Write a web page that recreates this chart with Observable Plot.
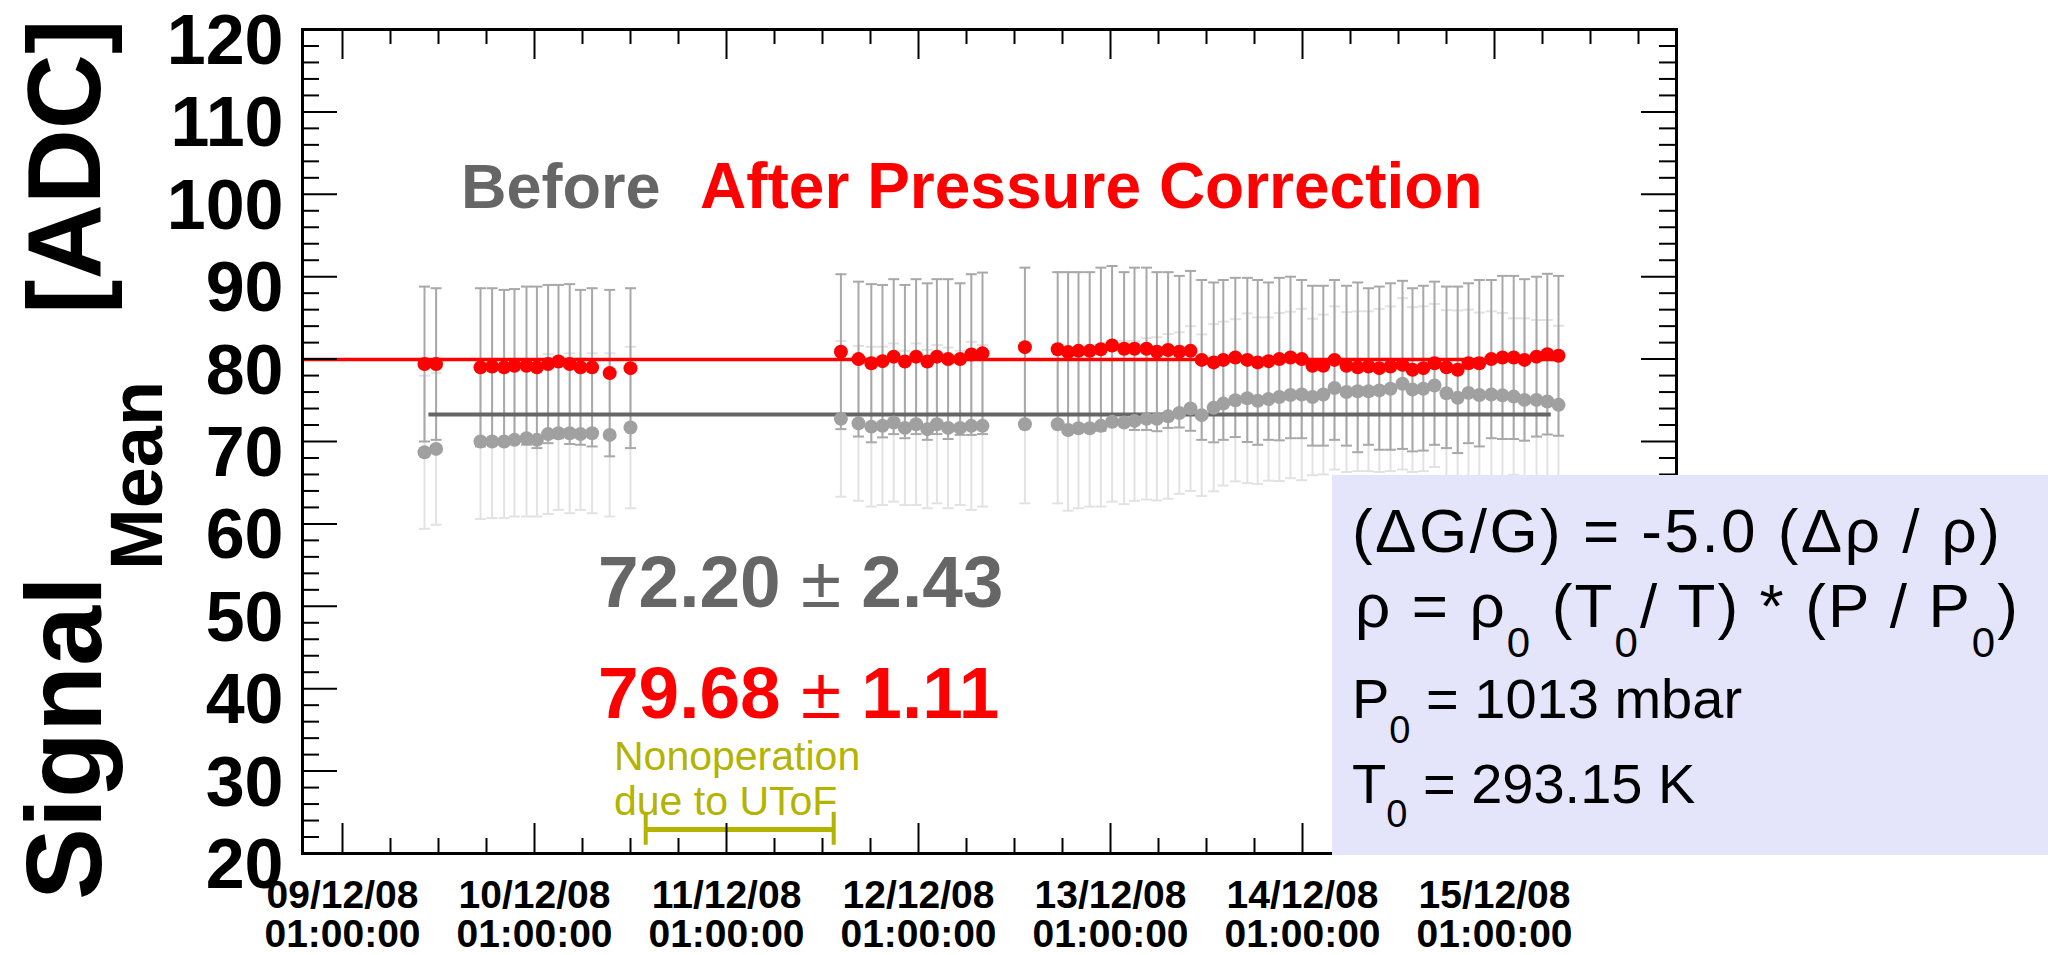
<!DOCTYPE html>
<html><head><meta charset="utf-8">
<script src="https://cdn.jsdelivr.net/npm/d3@7"></script>
<script src="https://cdn.jsdelivr.net/npm/@observablehq/plot@0.6"></script>
<style>html,body{margin:0;padding:0;background:#fff;} #chart{width:2048px;height:955px;overflow:hidden;}</style>
</head><body><div id="chart"></div>
<script>
// reference time: 09/12/08 01:00:00 ; x values are hours after it
const t0 = Date.UTC(2008, 11, 9, 1, 0, 0);
const hours = [10.25, 11.7,
  17.25, 18.7, 20.2, 21.5, 23.0, 24.3, 25.7, 27.0, 28.4, 29.75, 31.2,
  33.4, 36.0,
  62.3, 64.5, 66.1, 67.5, 68.9, 70.3, 71.7, 73.1, 74.3, 75.7, 77.2, 78.6, 80.0,
  85.3,
  89.4, 90.7, 92.0, 93.4, 94.8, 96.2, 97.7, 99.0, 100.5, 101.8,
  103.2, 104.6, 106.0, 107.4, 108.9, 110.1, 111.6, 113.1, 114.4, 115.75,
  117.1, 118.5, 119.9, 121.25, 122.6, 124.0, 125.5, 126.9, 128.25, 129.6,
  131.0, 132.5, 133.75, 135.1, 136.5, 138.0, 139.4, 140.75, 142.1, 143.6,
  145.0, 146.4, 147.75, 149.25, 150.6, 152.0];
const afterCorr = [79.4, 79.4,
  79.0, 79.1, 79.0, 79.2, 79.2, 79.0, 79.4, 79.7, 79.4, 79.0, 79.0,
  78.3, 78.9,
  80.9, 80.0, 79.5, 79.75, 80.3, 79.7, 80.3, 79.7, 80.3, 80.0, 80.0, 80.55, 80.7,
  81.45,
  81.2, 80.85, 81.0, 81.0, 81.2, 81.65, 81.25, 81.25, 81.25, 80.9,
  81.1, 80.9, 81.0, 79.9, 79.6, 79.9, 80.2, 79.9, 79.6, 79.75,
  80.0, 80.2, 80.0, 79.2, 79.2, 79.9, 79.2, 79.0, 79.1, 78.9,
  79.1, 79.3, 78.7, 78.9, 79.5, 79.0, 78.7, 79.5, 79.5, 80.0,
  80.2, 80.2, 79.9, 80.3, 80.6, 80.4];
const afterErr = [9.4, 9.2,
  9.6, 9.5, 9.4, 9.3, 9.6, 9.8, 9.6, 9.3, 9.7, 9.4, 9.6,
  10.1, 9.7,
  9.4, 9.4, 9.6, 9.25, 9.4, 9.3, 9.4, 9.5, 9.4, 9.7, 9.2, 9.75, 9.8,
  9.65,
  9.35, 9.7, 9.55, 9.55, 9.9, 9.65, 9.3, 9.85, 9.85, 9.65,
  9.45, 9.2, 9.7, 9.7, 9.7, 9.7, 9.66, 9.96, 10.0, 9.55,
  9.86, 9.8, 9.6, 9.7, 9.7, 9.7, 9.7, 10.3, 9.5, 9.9,
  10.1, 10.2, 9.9, 10.0, 9.9, 9.8, 10.1, 9.7, 10.1, 9.6,
  9.9, 9.9, 9.8, 9.7, 9.75, 9.7];
const beforeCorr = [68.7, 69.1,
  70.0, 70.0, 70.0, 70.2, 70.4, 70.2, 70.9, 71.0, 71.0, 70.9, 71.0,
  70.8, 71.7,
  72.75, 72.2, 71.8, 71.9, 72.3, 71.65, 72.1, 71.5, 72.1, 71.65, 71.65, 71.9, 71.9,
  72.1,
  72.1, 71.4, 71.6, 71.6, 71.9, 72.4, 72.3, 72.5, 72.75, 72.75,
  73.05, 73.45, 74.0, 73.2, 74.1, 74.6, 75.0, 75.25, 74.95, 75.15,
  75.4, 75.65, 75.7, 75.4, 75.7, 76.5, 76.0, 76.1, 76.1, 76.2,
  76.4, 77.0, 76.3, 76.4, 76.8, 75.85, 75.3, 75.9, 75.65, 75.7,
  75.6, 75.45, 75.05, 75.05, 74.85, 74.45];
const beforeErr = [9.3, 9.2,
  9.4, 9.3, 9.3, 9.3, 9.5, 9.3, 9.7, 9.3, 9.7, 9.2, 9.7,
  9.9, 9.8,
  9.45, 9.4, 9.7, 9.6, 9.6, 9.35, 9.8, 9.6, 9.6, 9.75, 9.35, 10.2, 9.8,
  9.6,
  9.6, 9.8, 9.7, 9.5, 9.8, 9.7, 9.9, 9.7, 9.8, 9.9,
  10.0, 9.8, 10.0, 9.8, 10.15, 9.94, 9.84, 10.3, 10.1, 9.9,
  10.2, 10.1, 10.4, 9.5, 9.7, 9.9, 9.7, 9.7, 9.7, 9.9,
  10.0, 10.4, 10.0, 10.0, 9.9, 10.1, 10.6, 10.1, 10.0, 10.1,
  10.0, 9.5, 9.9, 9.7, 9.9, 9.6];

// fitted constant levels [after, before] and their spans (hours)
const fitLevel = [79.95, 73.27];
const fitSpan = [[-5, 152.5], [10.8, 151.1]];
// period without operation (hours)
const nonOperation = [37.9, 61.4];
// axis ticks
const xDomainHours = [-5, 166.75];
const majorXHours = [0, 24, 48, 72, 96, 120, 144];
const minorXHours = d3.range(6, 166, 6).filter(h => h % 24 !== 0);
const majorY = d3.range(20, 121, 10);
const minorY = d3.range(22, 120, 2).filter(v => v % 10 !== 0);

const at = h => new Date(t0 + h * 3600e3);
const rows = hours.map((h, i) => ({t: at(h), a: afterCorr[i], ae: afterErr[i], b: beforeCorr[i], be: beforeErr[i]}));

const W = 2048, H = 955, ML = 302, MR = 372, MT = 29, MB = 102;
const FW = W - ML - MR, FH = H - MT - MB;
const FONT = "'Liberation Sans', Arial, Helvetica, sans-serif";
const cap = {draw(ctx, size) { const r = Math.sqrt(size / Math.PI); ctx.moveTo(-r, 0); ctx.lineTo(r, 0); }};
const faint = "#e2e2e2", mid = "#a8a8a8", olive = "#b3b300";
const fmtD = d3.utcFormat("%d/%m/%y"), fmtT = d3.utcFormat("%H:%M:%S");

const plot = Plot.plot({
  width: W, height: H,
  marginLeft: ML, marginRight: MR, marginTop: MT, marginBottom: MB,
  style: {fontFamily: FONT, background: "#fff", color: "#000"},
  x: {type: "utc", domain: xDomainHours.map(at), axis: null},
  y: {domain: [20, 120], axis: null},
  marks: [
    // before-correction error bars (faint)
    Plot.ruleX(rows, {x: "t", y1: d => d.b - d.be, y2: d => d.b + d.be, stroke: faint, strokeWidth: 2}),
    Plot.dot(rows, {x: "t", y: d => d.b - d.be, symbol: cap, r: 5.5, stroke: faint, strokeWidth: 2, fill: "none"}),
    Plot.dot(rows, {x: "t", y: d => d.b + d.be, symbol: cap, r: 5.5, stroke: faint, strokeWidth: 2, fill: "none"}),
    // after-correction error bars
    Plot.ruleX(rows, {x: "t", y1: d => d.a - d.ae, y2: d => d.a + d.ae, stroke: mid, strokeWidth: 2}),
    Plot.dot(rows, {x: "t", y: d => d.a - d.ae, symbol: cap, r: 5.5, stroke: mid, strokeWidth: 2, fill: "none"}),
    Plot.dot(rows, {x: "t", y: d => d.a + d.ae, symbol: cap, r: 5.5, stroke: mid, strokeWidth: 2, fill: "none"}),
    // fit levels
    Plot.ruleY([0], {y: () => fitLevel[0], x1: () => at(fitSpan[0][0]), x2: () => at(fitSpan[0][1]), stroke: "#ff0000", strokeWidth: 3.5}),
    Plot.ruleY([0], {y: () => fitLevel[1], x1: () => at(fitSpan[1][0]), x2: () => at(fitSpan[1][1]), stroke: "#666", strokeWidth: 4}),
    // points
    Plot.dot(rows, {x: "t", y: "b", r: 7, fill: "#a0a0a0"}),
    Plot.dot(rows, {x: "t", y: "a", r: 7, fill: "#ff0000"}),
    // nonoperation bracket
    Plot.ruleY([0], {y: 22.9, x1: () => at(nonOperation[0]), x2: () => at(nonOperation[1]), stroke: olive, strokeWidth: 5}),
    Plot.ruleX(nonOperation.map(at), {x: d => d, y1: 21.0, y2: 25.0, stroke: olive, strokeWidth: 4}),
    // frame & ticks (inside, all four sides)
    Plot.tickY(majorY, {y: d => d, insetRight: FW - 35, stroke: "#000", strokeWidth: 2}),
    Plot.tickY(minorY, {y: d => d, insetRight: FW - 17, stroke: "#000", strokeWidth: 2}),
    Plot.tickY(majorY, {y: d => d, insetLeft: FW - 35, stroke: "#000", strokeWidth: 2}),
    Plot.tickY(minorY, {y: d => d, insetLeft: FW - 17, stroke: "#000", strokeWidth: 2}),
    Plot.tickX(majorXHours.map(at), {x: d => d, insetTop: FH - 30, stroke: "#000", strokeWidth: 2}),
    Plot.tickX(minorXHours.map(at), {x: d => d, insetTop: FH - 15, stroke: "#000", strokeWidth: 2}),
    Plot.tickX(majorXHours.map(at), {x: d => d, insetBottom: FH - 30, stroke: "#000", strokeWidth: 2}),
    Plot.tickX(minorXHours.map(at), {x: d => d, insetBottom: FH - 15, stroke: "#000", strokeWidth: 2}),
    Plot.frame({stroke: "#000", strokeWidth: 3}),
    Plot.axisY(majorY, {anchor: "left", tickSize: 0, tickPadding: 19, fontSize: 70, fontWeight: "bold", fill: "#000", dy: 12, label: null, tickFormat: d => String(d)}),
    Plot.axisX(majorXHours.map(at), {anchor: "bottom", tickSize: 0, tickPadding: 27, fontSize: 39, fontWeight: "bold", fill: "#000", lineHeight: 1.0, label: null, tickFormat: d => fmtD(d) + "\n" + fmtT(d)})
  ]
});
document.getElementById("chart").appendChild(plot);

const svg = d3.select(plot);
const txt = (x, y, s, size, weight, fill, rot) => {
  const t = svg.append("text").attr("font-family", FONT).attr("font-size", size).attr("font-weight", weight)
    .attr("fill", fill).attr("text-anchor", "start").text(s);
  if (rot) t.attr("transform", `translate(${x},${y}) rotate(-90)`); else t.attr("x", x).attr("y", y);
  return t;
};
// y axis title
txt(101, 900, "Signal", 108, "bold", "#000", true);
txt(162, 570, "Mean", 74, "bold", "#000", true);
txt(100, 314, "[ADC]", 104, "bold", "#000", true);
// header
txt(461, 208, "Before", 63, "bold", "#666", false);
txt(700, 208, "After Pressure Correction", 64, "bold", "#ff0000", false);
// statistics
const stat = (y, a, b, fill) => {
  const t = svg.append("text").attr("x", 598).attr("y", y).attr("text-anchor", "start").attr("font-family", FONT)
    .attr("font-size", 73).attr("font-weight", "bold").attr("fill", fill);
  t.append("tspan").text(a + " ");
  t.append("tspan").attr("font-weight", "normal").text("±");
  t.append("tspan").text(" " + b);
};
stat(607, "72.20", "2.43", "#666");
stat(718, "79.68", "1.11", "#ff0000");
// nonoperation label
txt(614, 770, "Nonoperation", 41, "normal", olive, false);
txt(614, 815, "due to UToF", 41, "normal", olive, false);
// formula box
svg.append("rect").attr("x", 1332).attr("y", 475).attr("width", 716).attr("height", 380).attr("fill", "#e4e4fa");
const line = (x, y, size, parts, len, subDy) => {
  const t = svg.append("text").attr("x", x).attr("y", y).attr("text-anchor", "start").attr("font-family", FONT)
    .attr("font-size", size).attr("fill", "#000");
  if (len) t.attr("textLength", len).attr("lengthAdjust", "spacing");
  let down = false;
  parts.forEach(p => {
    const sp = t.append("tspan");
    if (typeof p === "object") { sp.attr("font-size", Math.round(size * 0.68)).attr("dy", subDy).text(p.subscript); down = true; }
    else { if (down) { sp.attr("dy", -subDy); down = false; } sp.text(p); }
  });
};
line(1352, 552, 62, ["(ΔG/G) = -5.0 (Δρ / ρ)"], 648, 0);
line(1355, 627, 62, ["ρ = ρ", {subscript: "0"}, " (T", {subscript: "0"}, "/ T) * (P / P", {subscript: "0"}, ")"], 663, 30);
line(1352, 718, 56, ["P", {subscript: "0"}, " = 1013 mbar"], null, 25);
line(1352, 803, 56, ["T", {subscript: "0"}, " = 293.15 K"], null, 24);
</script></body></html>
